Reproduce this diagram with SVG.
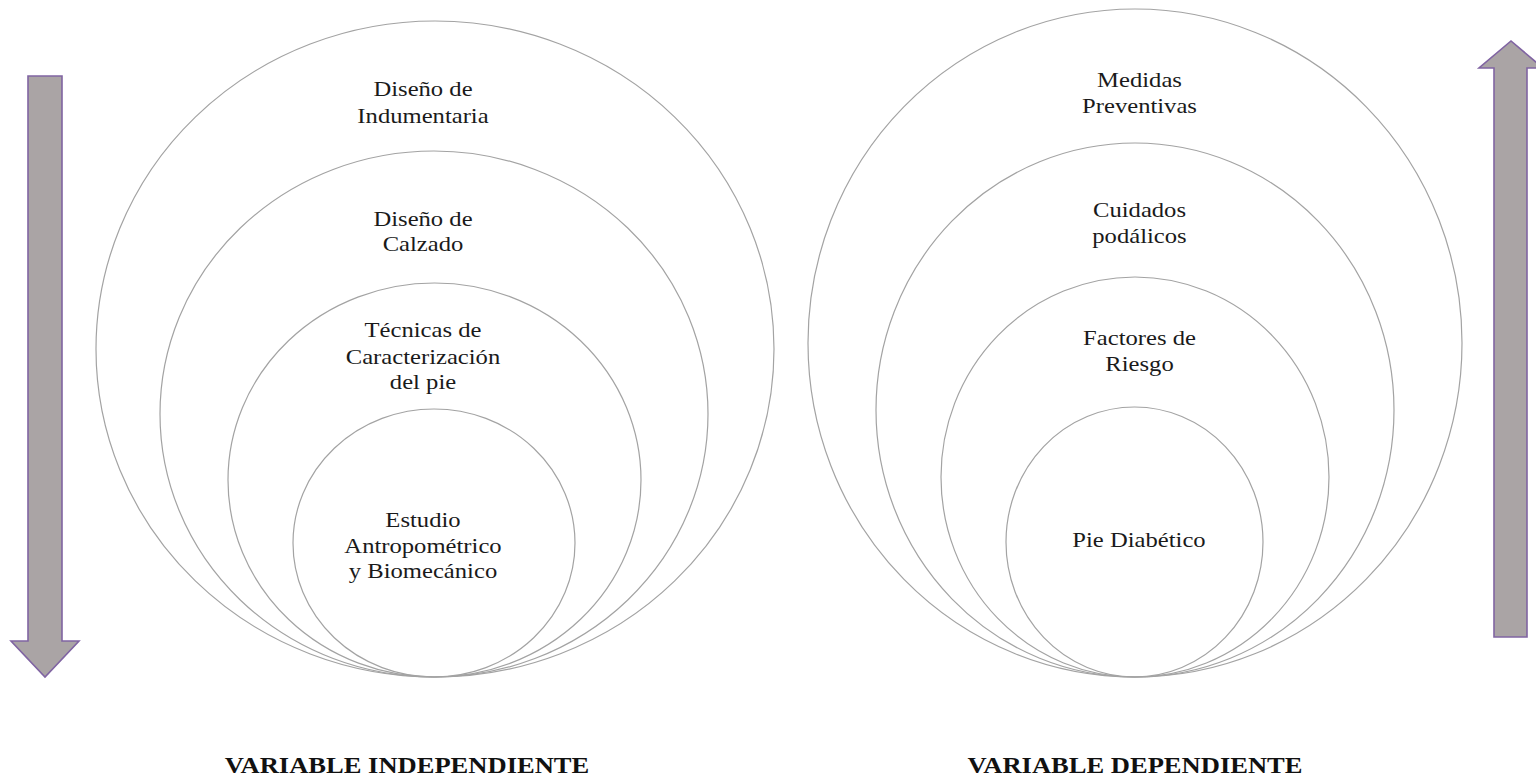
<svg xmlns="http://www.w3.org/2000/svg" width="1536" height="781" viewBox="0 0 1536 781">
  <style>
    .ring { fill: none; stroke: #a3a3a3; stroke-width: 1.2; }
    .lbl { font-family: "Liberation Serif", "Times New Roman", serif; font-size: 22px; fill: #1a1a1a; text-anchor: middle; }
    .title { font-family: "Liberation Serif", "Times New Roman", serif; font-size: 22.5px; font-weight: bold; fill: #111; text-anchor: middle; }
    .arrow { fill: #aaa4a5; stroke: #8064a2; stroke-width: 1.6; stroke-linejoin: miter; }
  </style>
  <rect width="1536" height="781" fill="#ffffff"/>

  <!-- Independent variable: nested rings, all touching at the bottom -->
  <g id="ind-outer">
    <ellipse class="ring" cx="435" cy="349" rx="339" ry="328"/>
    <g transform="translate(423,0) scale(1.12,1)">
      <text class="lbl" x="0" y="96">Diseño de</text>
      <text class="lbl" x="0" y="123">Indumentaria</text>
    </g>
  </g>
  <g id="ind-2">
    <ellipse class="ring" cx="434" cy="414" rx="274" ry="263"/>
    <g transform="translate(423,0) scale(1.12,1)">
      <text class="lbl" x="0" y="226">Diseño de</text>
      <text class="lbl" x="0" y="251">Calzado</text>
    </g>
  </g>
  <g id="ind-3">
    <ellipse class="ring" cx="434.5" cy="480" rx="206.5" ry="197"/>
    <g transform="translate(423,0) scale(1.12,1)">
      <text class="lbl" x="0" y="337">Técnicas de</text>
      <text class="lbl" x="0" y="364">Caracterización</text>
      <text class="lbl" x="0" y="389">del pie</text>
    </g>
  </g>
  <g id="ind-inner">
    <ellipse class="ring" cx="434" cy="543" rx="141" ry="134"/>
    <g transform="translate(423,0) scale(1.12,1)">
      <text class="lbl" x="0" y="527">Estudio</text>
      <text class="lbl" x="0" y="553">Antropométrico</text>
      <text class="lbl" x="0" y="578">y Biomecánico</text>
    </g>
  </g>

  <!-- Dependent variable: nested rings -->
  <g id="dep-outer">
    <ellipse class="ring" cx="1135" cy="343" rx="327" ry="334"/>
    <g transform="translate(1139.5,0) scale(1.12,1)">
      <text class="lbl" x="0" y="87">Medidas</text>
      <text class="lbl" x="0" y="113">Preventivas</text>
    </g>
  </g>
  <g id="dep-2">
    <ellipse class="ring" cx="1135" cy="410" rx="259" ry="267"/>
    <g transform="translate(1139.5,0) scale(1.12,1)">
      <text class="lbl" x="0" y="217">Cuidados</text>
      <text class="lbl" x="0" y="243">podálicos</text>
    </g>
  </g>
  <g id="dep-3">
    <ellipse class="ring" cx="1135" cy="477" rx="194" ry="200"/>
    <g transform="translate(1139.5,0) scale(1.12,1)">
      <text class="lbl" x="0" y="345">Factores de</text>
      <text class="lbl" x="0" y="371">Riesgo</text>
    </g>
  </g>
  <g id="dep-inner">
    <ellipse class="ring" cx="1134.5" cy="542" rx="128.5" ry="135"/>
    <g transform="translate(1139,0) scale(1.12,1)">
      <text class="lbl" x="0" y="547">Pie Diabético</text>
    </g>
  </g>

  <!-- Block arrows -->
  <g id="connectors">
    <path id="arrow-down" class="arrow" d="M28,76 H62 V641 H79 L45,677 L11,641 H28 Z"/>
    <path id="arrow-up" class="arrow" d="M1494,637 V68 H1479 L1511,41 L1543,68 H1527 V637 Z"/>
  </g>

  <g id="titles">
    <g transform="translate(407,0) scale(1.18,1)">
      <text class="title" x="0" y="773">VARIABLE INDEPENDIENTE</text>
    </g>
    <g transform="translate(1135,0) scale(1.18,1)">
      <text class="title" x="0" y="773">VARIABLE DEPENDIENTE</text>
    </g>
  </g>
</svg>
